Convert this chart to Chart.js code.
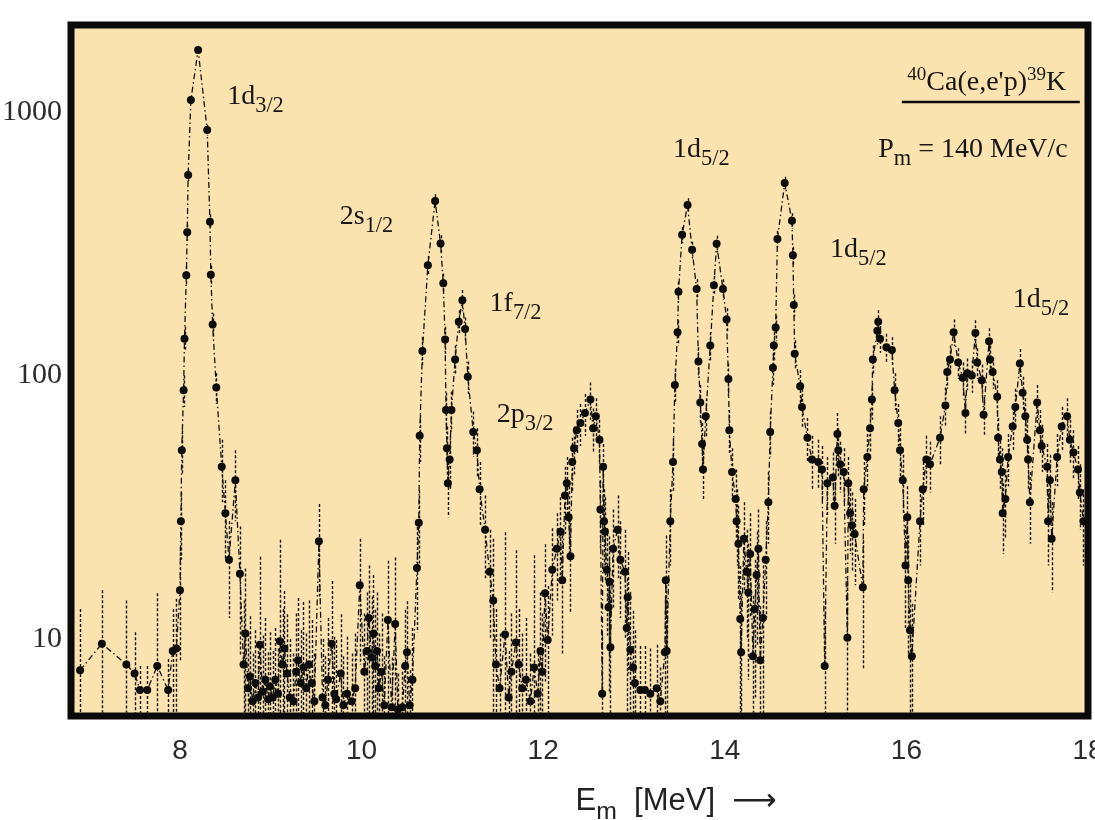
<!DOCTYPE html>
<html>
<head>
<meta charset="utf-8">
<script src="https://cdn.jsdelivr.net/npm/chart.js@4.4.1/dist/chart.umd.min.js"></script>
<style>
html,body{margin:0;padding:0;background:#fff;}
#wrap{width:1095px;height:820px;}
</style>
</head>
<body>
<div id="wrap"><canvas id="spec" width="1095" height="820"></canvas></div>
<script>
// 40Ca(e,e'p)39K missing-energy spectrum
const energies = [
  6.90,7.14,7.41,7.50,7.56,7.64,7.75,7.87,7.92,7.96,8.00,8.01,8.02,8.04,8.05,8.07,8.08,8.09,8.12,8.20,8.30,8.33,8.34,8.36,8.40,8.46,8.50,8.54,8.61,8.66,
  8.70,8.72,8.75,8.77,8.80,8.83,8.86,8.88,8.91,8.94,8.97,8.99,9.02,9.05,9.08,9.10,9.13,9.15,9.18,9.21,
  9.25,9.28,9.30,9.33,9.36,9.39,9.42,9.45,9.48,9.53,9.57,9.60,9.63,9.67,9.70,9.72,9.77,9.80,9.84,9.89,
  9.93,9.98,10.03,10.06,10.08,10.11,10.13,10.15,10.17,10.19,10.22,10.25,10.29,10.33,10.37,10.40,10.45,10.48,10.50,10.53,10.56,10.61,
  10.63,10.64,10.67,10.73,10.81,10.87,10.90,10.92,10.93,10.94,10.95,10.97,10.99,11.03,11.07,11.11,11.14,11.17,11.23,11.27,11.30,11.36,11.41,
  11.45,11.48,11.52,11.58,11.62,11.65,11.70,11.73,11.77,11.81,11.86,11.90,11.94,
  11.97,11.99,12.02,12.05,12.10,12.15,12.19,12.21,12.24,12.26,12.28,12.30,12.32,12.34,12.37,12.41,12.46,12.52,12.55,12.58,
  12.62,12.63,12.65,12.66,12.67,12.68,12.70,12.72,12.73,12.74,12.77,12.82,12.85,12.90,12.92,12.93,12.96,12.99,13.01,13.07,
  13.12,13.18,13.25,13.29,13.34,13.35,
  13.36,13.40,13.43,13.45,13.48,13.49,13.53,13.59,13.64,13.69,13.71,13.73,13.75,13.76,13.79,13.84,13.88,13.91,13.98,14.02,
  14.04,14.05,14.08,14.12,14.13,14.15,14.17,14.18,14.21,14.24,14.26,14.28,14.31,14.33,14.35,14.37,14.39,14.42,14.45,14.48,
  14.50,14.53,14.54,14.56,14.58,14.66,14.74,14.75,14.76,14.77,
  14.83,14.85,14.91,14.96,15.03,15.07,15.10,15.13,15.19,15.21,15.24,15.25,15.27,15.31,15.35,15.36,15.38,15.40,15.43,15.52,
  15.53,15.57,15.60,15.62,15.63,15.68,15.69,15.71,15.78,15.84,15.87,15.91,15.93,15.96,15.99,16.01,16.02,16.04,16.06,16.15,
  16.18,16.22,16.26,16.37,16.43,16.45,16.48,16.52,16.57,16.62,16.65,16.67,16.72,16.76,16.78,16.83,16.85,16.91,16.92,16.95,
  17.00,17.01,17.03,17.05,17.06,17.09,17.12,17.17,17.20,17.25,17.28,17.31,17.33,17.34,17.36,17.44,17.47,17.49,17.55,17.56,
  17.58,17.60,17.66,17.71,17.77,17.80,17.84,17.89,17.91,17.95
];
const counts = [
  7.6,9.6,8.0,7.4,6.4,6.4,7.9,6.4,9.0,9.2,15.3,28,52,88,138,240,350,577,1110,1720,855,383,241,156,90,45,30,20,40,17.7,
  8.0,10.5,6.5,7.2,5.8,6.8,6.0,9.5,6.3,7.0,5.9,6.6,6.0,7.0,6.2,9.8,8.0,9.2,7.4,6.0,
  5.8,7.5,8.3,6.8,7.8,6.5,8.0,6.8,5.8,23.5,6.0,5.6,7.0,9.6,6.2,5.9,7.4,5.6,6.2,5.8,
  6.5,16,7.5,9.0,12.0,8.5,10.5,7.9,9.0,6.5,7.5,5.6,11.8,5.5,11.4,5.4,5.5,7.9,8.9,5.6,7.0,18.6,
  27.6,59,124,262,460,317,224,137,74,53,39,48,74,115,160,193,150,99,61,52,37,26,18,
  14,8,6.5,10.4,6.0,7.5,9.7,8.0,6.5,7.0,5.8,7.8,6.2,
  9.0,7.5,14.9,9.9,18.3,22,25.5,16.7,35,39,29,20.6,47,53,62,66,72,81,63,70,
  57,31,6.2,45,28,25.5,18.3,13.2,16.5,9.3,22,26,20,18,11,14.4,9.1,7.8,6.8,6.4,
  6.4,6.2,6.5,5.8,8.9,16.7,
  9,28,47,92,146,208,342,444,300,213,113,79,55,44,70,130,220,316,213,163,
  97,62,43,34,28,23,11.9,8.9,24,18,15,21,8.6,13,17.5,22,8.3,12,20,33,
  61,107,130,152,330,538,387,286,185,121,
  91,76,58,48,47,44,7.9,39,41,32,60,52,46,43,10.1,39,30,27,25,15.7,
  37,49,63,81,115,148,160,138,128,125,88,66,52,40,19,29,16.7,10.8,8.6,28,
  37,48,46,58,77,103,115,146,112,98,72,102,100,145,112,96,71,135,115,103,
  83,58,48,43,30,34,49,64,76,111,86,70,57,48,33,79,62,54,45,28,
  40,24,49,64,70,57,51,44,36,28
];
const errors = [
  5.4,5.7,6.0,3.2,1.5,1.5,7.0,2.0,4.0,5.0,7,8,10,12,15,20,25,30,45,60,40,25,20,16,12,12,10,8,12,9,
  6,8,4,5,3,4,3,11,4,5,3,4,3,4,3,14,5,6,5,4,
  3,5,6,4,6,4,6,5,3,9,4,3,5,7,4,4,5,3,4,3,
  4,8,5,6,7,6,7,5,6,4,5,3,8,3,9,2,2,5,5,2,4,8,
  9,12,16,22,28,24,20,16,12,11,10,11,13,15,17,18,16,14,12,11,10,9,8,
  10,5,4,15,3,5,12,5,4,5,3,13,3,
  6,5,8,6,8,8,9,8,10,10,9,8,11,11,12,12,13,13,12,12,
  11,9,4,10,9,9,8,7,8,6,9,9,8,8,6,7,6,5,4,3,
  3,3,3,2,5,8,
  5,9,11,14,16,19,24,27,22,19,15,13,11,10,12,16,19,23,19,17,
  14,12,10,10,9,9,7,6,9,8,8,9,6,7,8,9,5,7,8,10,
  12,15,16,17,24,30,26,22,18,15,
  14,13,11,11,10,10,6,10,10,9,12,11,10,10,7,10,9,9,9,8,
  10,11,12,13,15,17,17,16,16,15,14,12,11,10,8,9,8,6,5,9,
  10,11,10,12,13,14,15,17,15,14,12,14,14,17,15,14,12,16,15,14,
  13,11,11,10,9,10,11,12,13,15,13,12,11,11,10,13,12,11,10,9,
  10,9,11,12,12,11,11,10,10,9
];

const xTicks = [8, 10, 12, 14, 16, 18];
const yTicks = [10, 100, 1000];

// state labels, anchored in data units (left edge, baseline)
const peakLabels = [
  { e: 8.52,  n: 1072, name: '1d', j: '3/2' },
  { e: 9.76,  n: 376,  name: '2s', j: '1/2' },
  { e: 11.41, n: 176,  name: '1f', j: '7/2' },
  { e: 11.49, n: 66.7, name: '2p', j: '3/2' },
  { e: 13.43, n: 675,  name: '1d', j: '5/2' },
  { e: 15.16, n: 282,  name: '1d', j: '5/2' },
  { e: 17.17, n: 182,  name: '1d', j: '5/2' }
];

const SERIF = '"Liberation Serif", "DejaVu Serif", serif';
const SANS = '"Liberation Sans", Arial, sans-serif';

function drawParts(ctx, x, y, parts, family, size) {
  parts.forEach(([txt, kind]) => {
    let fs = size, dy = 0;
    if (kind === 'sub') { fs = size * 0.8; dy = size * 0.3; }
    if (kind === 'sup') { fs = size * 0.68; dy = -size * 0.38; }
    ctx.font = fs + 'px ' + family;
    ctx.fillText(txt, x, y + dy);
    x += ctx.measureText(txt).width;
  });
  return x;
}

const paper = {
  id: 'paper',
  beforeDraw(chart) {
    const { ctx, chartArea: a } = chart;
    ctx.save();
    ctx.fillStyle = '#fbe3b0';
    ctx.fillRect(a.left, a.top, a.right - a.left, a.bottom - a.top);
    ctx.restore();
  }
};

const errorBars = {
  id: 'errorBars',
  beforeDatasetsDraw(chart) {
    const { ctx, chartArea: a, scales: { x, y } } = chart;
    ctx.save();
    ctx.beginPath();
    ctx.rect(a.left, a.top, a.right - a.left, a.bottom - a.top);
    ctx.clip();
    ctx.strokeStyle = '#151515';
    ctx.lineWidth = 1.4;
    ctx.setLineDash([3, 2]);
    energies.forEach((e, i) => {
      const px = Math.round(x.getPixelForValue(e)) + 0.5;
      const top = y.getPixelForValue(counts[i] + errors[i]);
      const lo = counts[i] - errors[i];
      const bot = lo > 0 ? Math.min(y.getPixelForValue(lo), a.bottom) : a.bottom;
      ctx.beginPath();
      ctx.moveTo(px, top);
      ctx.lineTo(px, bot);
      ctx.stroke();
    });
    ctx.restore();
  }
};

const frameAndText = {
  id: 'frameAndText',
  afterDraw(chart) {
    const { ctx, chartArea: a, scales: { x, y } } = chart;
    ctx.save();
    ctx.strokeStyle = '#0a0a0a';
    ctx.lineWidth = 7;
    ctx.strokeRect(a.left, a.top, a.right - a.left, a.bottom - a.top);

    ctx.fillStyle = '#161616';
    ctx.textBaseline = 'alphabetic';
    ctx.textAlign = 'left';
    peakLabels.forEach(l => {
      drawParts(ctx, x.getPixelForValue(l.e), y.getPixelForValue(l.n),
        [[l.name, ''], [l.j, 'sub']], SERIF, 28);
    });

    // reaction and kinematics
    drawParts(ctx, x.getPixelForValue(16.01), y.getPixelForValue(1211),
      [['40', 'sup'], ['Ca(e,e\'p)', ''], ['39', 'sup'], ['K', '']], SERIF, 28);
    ctx.lineWidth = 2.5;
    ctx.beginPath();
    const uy = y.getPixelForValue(1091);
    ctx.moveTo(x.getPixelForValue(15.95), uy);
    ctx.lineTo(x.getPixelForValue(17.91), uy);
    ctx.stroke();
    drawParts(ctx, x.getPixelForValue(15.69), y.getPixelForValue(675),
      [['P', ''], ['m', 'sub'], [' = 140 MeV/c', '']], SERIF, 28);

    // axis title
    ctx.fillStyle = '#222';
    drawParts(ctx, (a.left + a.right) / 2 - 4, chart.height - 10,
      [['E', ''], ['m', 'sub'], ['  [MeV]  ', ''], ['\u27F6', '']], SANS + ', "DejaVu Sans"', 31);
    ctx.restore();
  }
};

new Chart(document.getElementById('spec'), {
  type: 'scatter',
  data: {
    datasets: [{
      data: energies.map((e, i) => ({ x: e, y: counts[i] })),
      showLine: true,
      borderColor: '#111',
      borderWidth: 1.3,
      borderDash: [6, 3, 1.5, 3],
      tension: 0,
      pointRadius: 4,
      pointBackgroundColor: '#0d0d0d',
      pointBorderWidth: 0
    }]
  },
  options: {
    responsive: false,
    animation: false,
    devicePixelRatio: 1,
    layout: { padding: { top: 25, right: 7, left: 0, bottom: 0 } },
    plugins: { legend: { display: false }, tooltip: { enabled: false } },
    scales: {
      x: {
        type: 'linear', min: 6.8, max: 18,
        grid: { display: false, drawTicks: false },
        border: { display: false },
        ticks: {
          font: { family: SANS, size: 28 }, color: '#2b2b2b', padding: 18,
          autoSkip: false, maxRotation: 0, callback: v => String(v)
        },
        afterBuildTicks: s => { s.ticks = xTicks.map(v => ({ value: v })); },
        afterFit: s => { s.height = 104; s.paddingLeft = 0; s.paddingRight = 0; }
      },
      y: {
        type: 'logarithmic', min: 5.1, max: 2140,
        grid: { display: false, drawTicks: false },
        border: { display: false },
        ticks: {
          font: { family: SERIF, size: 30 }, color: '#2b2b2b', padding: 9,
          callback: v => String(v)
        },
        afterBuildTicks: s => { s.ticks = yTicks.map(v => ({ value: v })); },
        afterFit: s => { s.width = 71; s.paddingTop = 0; s.paddingBottom = 0; }
      }
    }
  },
  plugins: [paper, errorBars, frameAndText]
});
</script>
</body>
</html>
